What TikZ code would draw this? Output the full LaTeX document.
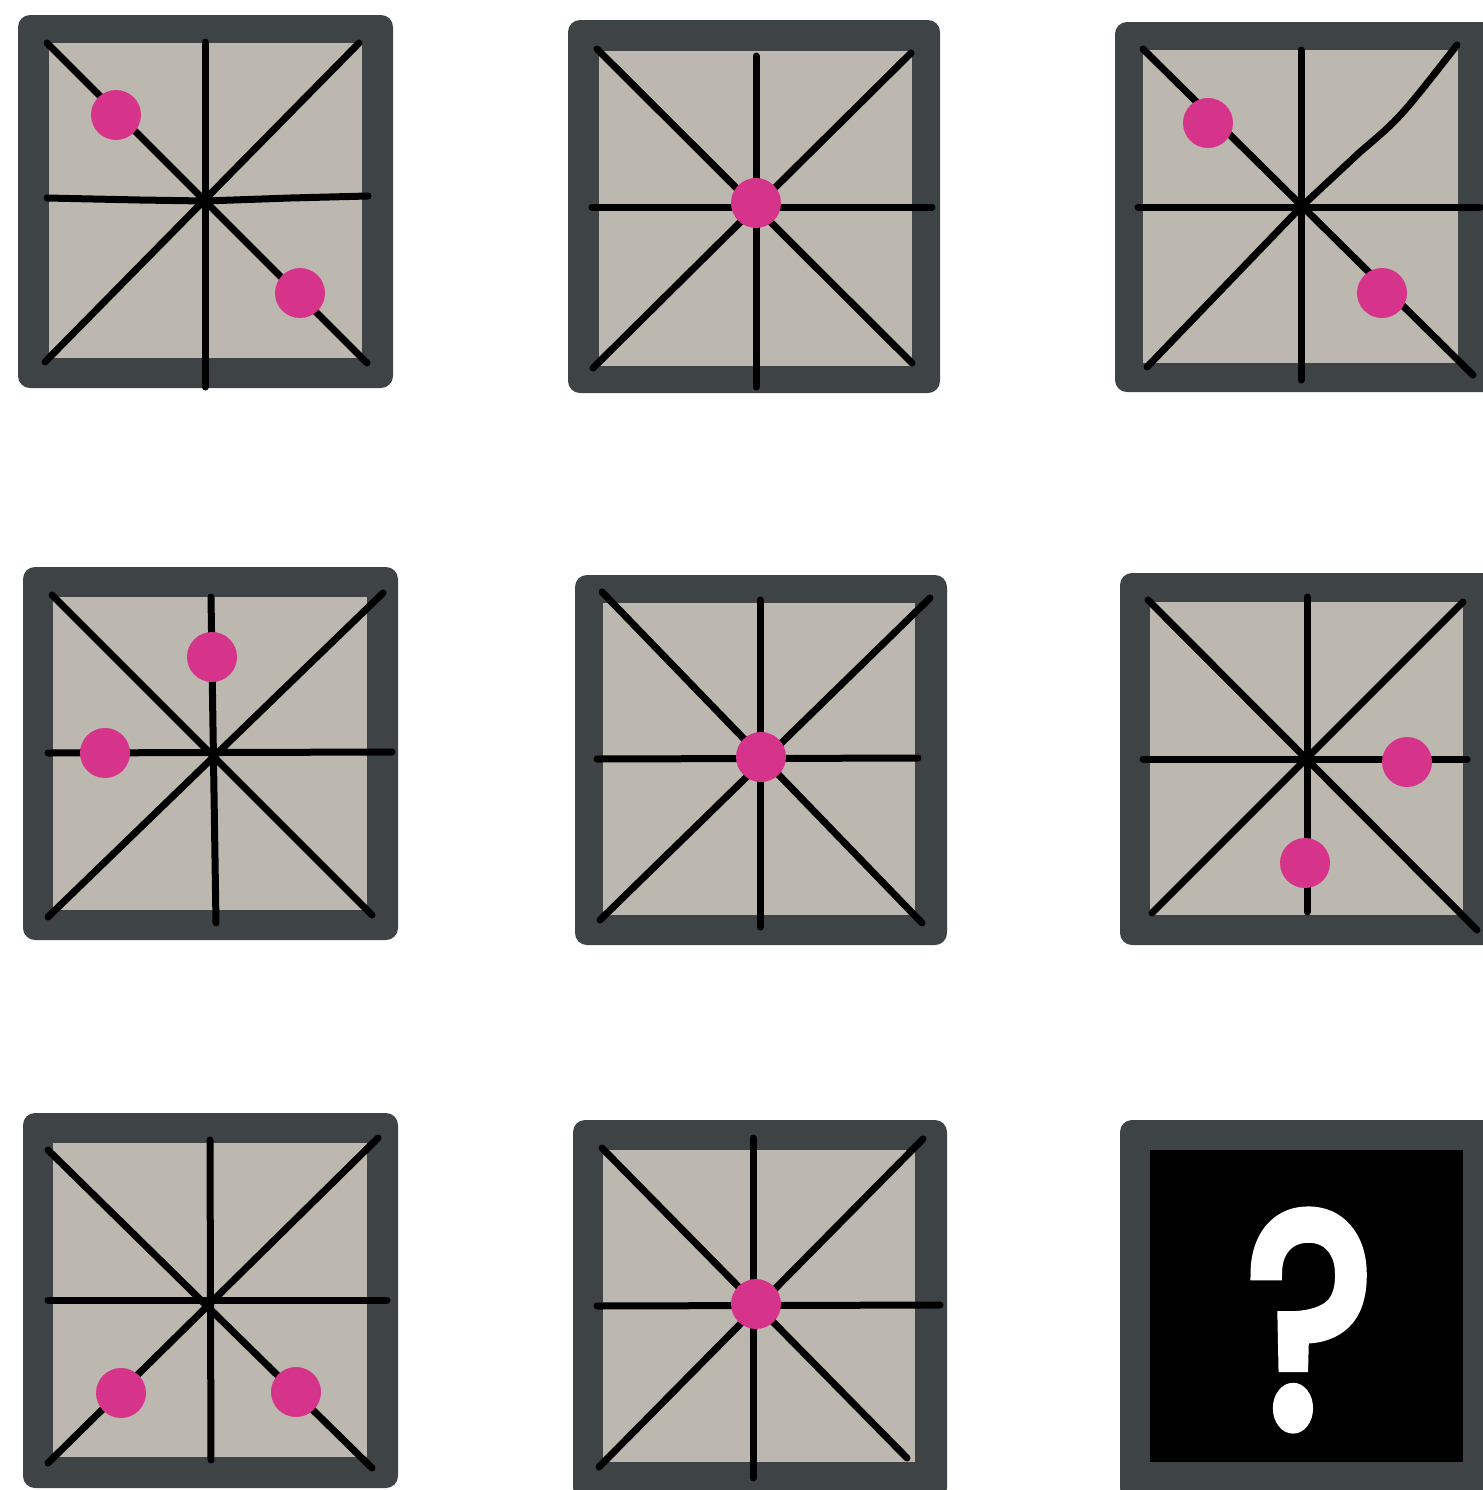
\documentclass[tikz,border=0pt]{standalone}
\usepackage{fontspec}
\newfontfamily\qfont{Poppins}[FakeBold=4.5]
\definecolor{framegray}{HTML}{3E4446}
\definecolor{panelbeige}{HTML}{BDB8AF}
\definecolor{dotpink}{HTML}{D6348A}
\tikzset{
  boxframe/.style={fill=framegray, rounded corners=6pt},
  boxpanel/.style={fill=panelbeige},
  ray/.style={draw=black, line width=3.5pt, line cap=round, line join=round},
  pinkdot/.style={fill=dotpink},
}
\begin{document}
\begin{tikzpicture}[x=0.5pt,y=-0.5pt]
\useasboundingbox (0,0) rectangle (1483,1490);
% ---------- row 1, col 1
\fill[boxframe] (18,15) rectangle (393,388);
\fill[boxpanel] (49,43) rectangle (362,358);
\draw[ray] (47,43) -- (367,363);
\draw[ray] (359,43) -- (45,362);
\draw[ray] (205,42) -- (205,387);
\draw[ray] (47,198) -- (140,200) -- (205,201) -- (290,198) -- (368,196);
\fill[pinkdot] (116,115) circle[radius=25];
\fill[pinkdot] (300,293) circle[radius=25];
% ---------- row 1, col 2
\fill[boxframe] (568,20) rectangle (940,393);
\fill[boxpanel] (599,51) rectangle (912,366);
\draw[ray] (597,49) -- (912,363);
\draw[ray] (911,53) -- (593,368);
\draw[ray] (756,56) -- (756,387);
\draw[ray] (592,207) -- (932,207);
\fill[pinkdot] (756,203) circle[radius=25];
% ---------- row 1, col 3
\fill[boxframe] (1115,22) rectangle (1495,392);
\fill[boxpanel] (1143,50) rectangle (1458,363);
\draw[ray] (1143,49) -- (1473,375);
\draw[ray] (1147,367) -- (1301,207) -- (1360,152) .. controls (1400,118) .. (1457,45);
\draw[ray] (1301,50) -- (1301,380);
\draw[ray] (1138,207) -- (1480,207);
\fill[pinkdot] (1208,123) circle[radius=25];
\fill[pinkdot] (1382,293) circle[radius=25];
% ---------- row 2, col 1
\fill[boxframe] (23,567) rectangle (398,940);
\fill[boxpanel] (53,597) rectangle (367,910);
\draw[ray] (52,595) -- (372,915);
\draw[ray] (383,593) -- (48,917);
\draw[ray] (211,597) -- (216,923);
\draw[ray] (48,753) -- (392,752);
\fill[pinkdot] (212,657) circle[radius=25];
\fill[pinkdot] (105,753) circle[radius=25];
% ---------- row 2, col 2
\fill[boxframe] (575,575) rectangle (947,945);
\fill[boxpanel] (603,603) rectangle (915,915);
\draw[ray] (602,592) -- (922,923);
\draw[ray] (930,598) -- (600,920);
\draw[ray] (760,600) -- (760,927);
\draw[ray] (597,759) -- (918,758);
\fill[pinkdot] (761,757) circle[radius=25];
% ---------- row 2, col 3
\fill[boxframe] (1120,573) rectangle (1495,945);
\fill[boxpanel] (1150,602) rectangle (1463,915);
\draw[ray] (1148,600) -- (1477,930);
\draw[ray] (1463,602) -- (1152,913);
\draw[ray] (1307,597) -- (1307,912);
\draw[ray] (1143,759) -- (1467,759);
\fill[pinkdot] (1407,762) circle[radius=25];
\fill[pinkdot] (1305,863) circle[radius=25];
% ---------- row 3, col 1
\fill[boxframe] (23,1113) rectangle (398,1488);
\fill[boxpanel] (53,1143) rectangle (367,1457);
\draw[ray] (48,1150) -- (372,1468);
\draw[ray] (378,1138) -- (48,1463);
\draw[ray] (210,1140) -- (211,1460);
\draw[ray] (48,1300) -- (387,1300);
\fill[pinkdot] (121,1393) circle[radius=25];
\fill[pinkdot] (296,1392) circle[radius=25];
% ---------- row 3, col 2
\fill[boxframe] (573,1120) rectangle (947,1500);
\fill[boxpanel] (603,1150) rectangle (915,1462);
\draw[ray] (602,1148) -- (907,1458);
\draw[ray] (923,1139) -- (599,1467);
\draw[ray] (753,1138) -- (753,1478);
\draw[ray] (597,1306) -- (940,1305);
\fill[pinkdot] (756,1304) circle[radius=25];
% ---------- row 3, col 3
\fill[boxframe] (1120,1120) rectangle (1495,1500);
\fill[black] (1150,1150) rectangle (1463,1462);
\node[text=white, inner sep=0pt, font=\qfont\fontsize{150}{150}\selectfont, xscale=0.8] (qmark) at (1310,1320) {?};
\end{tikzpicture}
\end{document}
